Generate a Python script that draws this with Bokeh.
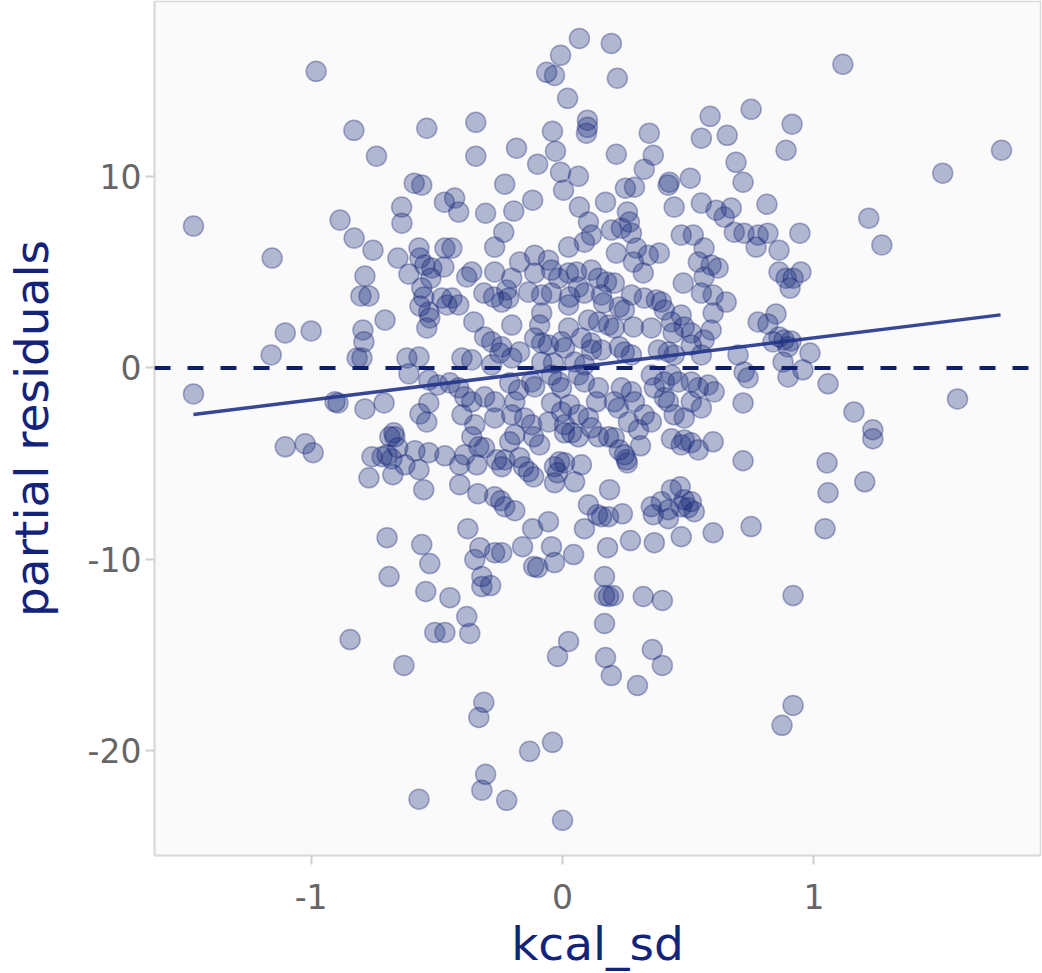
from bokeh.plotting import figure
from bokeh.models import Span, FixedTicker, Range1d
from bokeh.embed import file_html
from bokeh.resources import INLINE

# ---- data ----
x_top = [-0.98, -0.83, -0.54, -0.74, -0.59, -0.56, -0.64, -0.47, -0.885, -0.063,
         -0.032, -0.008, 0.067, 0.194, 0.218, 0.02, 0.099, 0.099, 0.095, -0.345,
         -0.345, -0.183, -0.099, -0.04, -0.028, -0.008, 0.063, 0.004, -0.119, -0.23,
         -0.306, -0.194, -0.429, -0.413, 0.171, 0.214, 0.345, 0.361, 0.325, 0.25,
         0.286, 0.425, 0.42, 0.508, 0.552, 0.587, 0.552, 0.655, 0.69, 0.718,
         0.75, 0.067, 0.258, 0.444, 0.671, 0.611, 1.115, 0.913, 0.889, 1.512,
         1.746, 0.813, 1.218]
y_top = [15.49, 12.41, 12.52, 11.06, 9.65, 9.55, 8.40, 8.66, 7.72, 15.44,
         15.28, 16.33, 17.21, 16.95, 15.13, 14.08, 12.94, 12.57, 12.26, 12.83,
         11.06, 11.48, 10.64, 12.36, 11.32, 10.22, 10.01, 9.28, 8.76, 9.60,
         8.08, 8.19, 8.87, 8.14, 8.66, 11.16, 12.26, 11.11, 10.38, 9.39,
         9.44, 9.70, 9.55, 9.91, 8.61, 13.14, 12.0, 12.15, 10.74, 9.70,
         13.51, 8.40, 8.14, 8.40, 8.35, 8.24, 15.86, 12.73, 11.37, 10.17,
         11.37, 8.55, 7.82]

x_midleft = [-1.468, -1.155, -0.829, -0.754, -0.639, -0.655, -0.611, -0.571, -0.567, -0.548,
             -0.52, -0.524, -0.468, -0.472, -0.786, -0.802, -0.77, -0.56, -0.552, -0.567,
             -0.532, -0.528, -0.54, -0.48, -0.46, -0.706, -0.794, -0.79, -0.817, -0.798,
             -1.103, -1.0, -1.159, -0.619, -0.571, -0.611, -0.532, -0.496, -0.448, -1.468,
             -0.905, -0.893, -0.786, -0.71, -0.532, -0.567, -0.54, -0.671]
y_midleft = [7.41, 5.74, 6.78, 6.15, 7.56, 5.74, 4.90, 6.26, 5.74, 5.37,
             5.22, 4.69, 6.26, 5.27, 4.80, 3.76, 3.76, 4.17, 3.70, 3.23,
             2.92, 2.61, 2.09, 3.65, 3.29, 2.50, 1.98, 1.36, 0.52, 0.52,
             1.83, 1.93, 0.68, 0.52, 0.57, -0.31, -0.63, -0.89, -0.78, -1.36,
             -1.77, -1.83, -2.14, -1.83, -1.83, -2.40, -2.82, -3.39]

x_midright = [0.944, 1.27, 0.778, 0.817, 0.77, 0.861, 0.861, 0.948, 0.889, 0.917,
              0.905, 0.849, 0.778, 0.817, 0.861, 0.881, 0.909, 0.897, 0.837, 0.984,
              0.877, 0.956, 0.897, 1.056, 1.571, 1.159, 1.234]
y_midright = [7.04, 6.42, 6.94, 7.04, 6.31, 6.15, 5.01, 5.01, 4.69, 4.69,
              4.17, 2.82, 2.40, 2.30, 1.62, 1.46, 1.41, 1.10, 1.36, 0.78,
              0.31, -0.10, -0.47, -0.83, -1.62, -2.30, -3.23]

x_lowleft = [-1.103, -1.024, -0.992, -0.667, -0.687, -0.758, -0.718, -0.698, -0.679, -0.655,
             -0.587, -0.532, -0.468, -0.627, -0.571, -0.77, -0.675, -0.552, -0.698, -0.56,
             -0.528, -0.69, -0.544, -0.448, -0.508, -0.468, -0.845]
y_lowleft = [-4.12, -3.96, -4.43, -3.60, -3.60, -4.64, -4.64, -4.54, -4.75, -4.17,
             -4.33, -4.43, -4.59, -5.06, -5.32, -5.74, -5.58, -6.36, -8.87, -9.23,
             -10.22, -10.90, -11.68, -12.0, -13.82, -13.82, -14.19]

x_bottom = [-0.631, -0.571, -0.02, 0.024, 0.171, 0.194, 0.298, 0.357, 0.397, -0.313,
            -0.333, -0.131, -0.04, -0.306, -0.321, -0.222, 0.0, 0.873, 0.917]
y_bottom = [-15.54, -22.53, -15.07, -14.29, -15.13, -16.07, -16.59, -14.71, -15.54, -17.47,
            -18.26, -20.03, -19.56, -21.23, -22.06, -22.59, -23.63, -18.67, -17.63]

x_lowright = [1.234, 1.052, 1.202, 1.056, 1.044, 0.917]
y_lowright = [-3.70, -4.96, -5.95, -6.52, -8.40, -11.89]

x_lowmid = [0.599, 0.718, 0.433, 0.484, 0.512, 0.54, 0.472, 0.31, 0.246, 0.254,
            0.258, 0.226, 0.183, 0.143, 0.206, 0.036, 0.063, 0.008, 0.075, 0.008,
            -0.012, -0.032, -0.02, -0.032, 0.048, -0.115, -0.135, -0.155, -0.091, -0.115,
            -0.19, -0.21, -0.171, -0.23, -0.262, -0.242, -0.361, -0.333, -0.389, -0.409,
            -0.341, -0.31, -0.409, -0.337, -0.27, -0.246, -0.19, -0.23, 0.187, 0.103,
            0.155, 0.183, 0.139, 0.238, 0.087, 0.179, 0.27, 0.365, 0.472, 0.599,
            0.353, 0.361, 0.393, 0.433, 0.468, 0.421, 0.421, 0.484, 0.512, 0.524,
            0.472, 0.5, 0.75, -0.377, -0.119, -0.056, -0.159, -0.044, 0.044, -0.032,
            -0.242, -0.27, -0.329, -0.349, -0.115, -0.099, -0.321, -0.321, -0.286, 0.167,
            0.167, 0.183, 0.202, 0.321, 0.397, 0.167, -0.381, -0.369]
y_lowmid = [-3.86, -4.85, -3.70, -3.76, -3.91, -4.28, -4.02, -4.07, -4.54, -4.80,
            -4.96, -4.28, -3.60, -3.60, -3.65, -3.39, -3.60, -3.39, -5.06, -4.96,
            -4.90, -5.16, -5.48, -6.0, -5.95, -5.69, -5.42, -5.16, -4.02, -3.60,
            -3.49, -3.86, -4.69, -4.80, -4.80, -5.16, -3.60, -4.12, -4.54, -5.06,
            -5.06, -4.17, -6.10, -6.57, -6.73, -6.94, -7.46, -7.25, -6.36, -7.15,
            -7.77, -7.77, -7.67, -7.62, -8.40, -9.39, -9.02, -9.13, -8.82, -8.61,
            -7.25, -7.67, -6.99, -6.36, -6.21, -7.41, -7.88, -6.89, -6.99, -7.51,
            -7.25, -7.30, -8.29, -8.40, -8.40, -8.03, -9.34, -9.34, -9.75, -10.17,
            -9.65, -9.65, -9.39, -10.01, -10.38, -10.43, -10.90, -11.42, -11.37, -10.90,
            -11.89, -11.94, -11.89, -11.94, -12.15, -13.35, -12.99, -13.87]

x_center = [-0.234, -0.27, -0.44, 0.024, 0.087, 0.103, 0.115, 0.194, 0.234, 0.266,
            0.274, 0.214, 0.294, 0.341, 0.385, 0.282, 0.321, 0.472, 0.52, 0.563,
            0.54, 0.591, 0.619, 0.563, 0.48, 0.552, 0.599, 0.651, 0.599, 0.591,
            0.683, 0.722, 0.643, -0.171, -0.111, -0.056, -0.361, -0.381, -0.27, -0.111,
            -0.044, -0.016, 0.024, 0.056, 0.115, 0.143, 0.175, 0.206, -0.202, -0.222,
            -0.214, -0.313, -0.274, -0.242, -0.44, -0.413, -0.135, -0.083, -0.044, 0.063,
            0.087, 0.028, 0.024, 0.155, 0.163, 0.274, 0.226, 0.246, 0.325, 0.373,
            0.393, 0.405, -0.083, -0.091, -0.353, -0.202, 0.024, 0.103, 0.143, 0.183,
            0.206, 0.282, 0.353, 0.433, 0.472, 0.484, 0.44, 0.512, 0.563, -0.31,
            -0.282, -0.242, -0.25, -0.111, -0.083, -0.056, -0.004, 0.008, 0.075, 0.115,
            0.155, 0.115, 0.226, 0.246, 0.274, 0.381, 0.421, 0.444, 0.512, 0.552,
            -0.171, -0.202, -0.40, -0.361, -0.282, -0.083, -0.036, 0.048, 0.087, 0.698,
            0.722, 0.738, -0.413, -0.389, -0.361, -0.31, -0.27, -0.21, -0.175, -0.123,
            -0.111, -0.044, -0.016, -0.004, 0.063, 0.087, 0.143, 0.135, 0.234, 0.274,
            0.286, 0.353, 0.405, 0.433, 0.46, 0.365, 0.405, 0.512, 0.54, 0.579,
            0.603, 0.512, 0.552, 0.718, -0.19, -0.202, -0.044, -0.004, 0.028, 0.063,
            0.103, 0.206, 0.222, 0.325, 0.353, 0.421, 0.444, -0.40, -0.349, -0.27,
            -0.151, -0.123, -0.056, 0.008, 0.115, 0.262, 0.484, 0.302]
y_center = [7.09, 6.31, 6.26, 6.31, 6.57, 7.62, 6.94, 7.20, 7.30, 7.62,
            7.04, 6.0, 6.26, 5.89, 6.0, 5.53, 4.96, 6.94, 6.94, 6.26,
            5.53, 5.37, 5.22, 4.75, 4.43, 3.91, 3.81, 3.44, 2.87, 1.98,
            7.09, 7.04, 7.88, 5.53, 5.89, 5.63, 5.01, 4.75, 5.01, 4.96,
            5.11, 4.69, 4.96, 5.01, 5.11, 4.69, 4.49, 4.43, 4.69, 4.07,
            3.65, 3.91, 3.70, 3.44, 3.65, 3.29, 3.96, 3.81, 3.91, 4.22,
            3.91, 3.70, 3.29, 3.81, 3.39, 3.81, 3.18, 3.03, 3.65, 3.55,
            3.44, 3.03, 2.87, 2.24, 2.40, 2.24, 2.09, 2.50, 2.40, 2.24,
            2.09, 2.14, 2.09, 2.40, 2.76, 2.14, 1.83, 1.83, 1.46, 1.62,
            1.36, 1.10, 0.78, 1.56, 1.30, 1.20, 1.36, 1.04, 1.56, 1.30,
            0.94, 0.94, 1.10, 0.83, 0.68, 0.94, 0.83, 0.68, 1.20, 0.68,
            0.83, 0.52, 0.52, 0.42, 0.16, 0.31, 0.26, 0.31, 0.16, 0.68,
            -0.21, -0.52, -1.04, -1.51, -1.77, -1.51, -1.77, -0.78, -1.15, -0.73,
            -0.99, -0.37, -0.73, -1.04, -0.37, -0.73, -1.04, -1.77, -1.04, -1.25,
            -1.77, -0.37, -0.73, -0.37, -0.73, -1.04, -1.56, -0.73, -1.04, -0.89,
            -1.25, -1.77, -2.09, -1.83, -1.77, -2.45, -1.83, -2.30, -1.93, -2.45,
            -2.61, -1.77, -2.09, -2.45, -2.82, -1.77, -2.45, -2.45, -2.97, -2.61,
            -2.61, -2.97, -2.82, -2.97, -3.13, -2.82, -2.61, -3.23]

# fitted regression line (end points)
fit_x = [-1.468, 1.742]
fit_y = [-2.43, 2.77]

x_ticks = [-1, 0, 1]
y_ticks = [-20, -10, 0, 10]

kcal_sd = []
partial_resid = []
for xs, ys in [(x_top, y_top), (x_midleft, y_midleft), (x_midright, y_midright),
               (x_lowleft, y_lowleft), (x_bottom, y_bottom), (x_lowright, y_lowright),
               (x_lowmid, y_lowmid), (x_center, y_center)]:
    n = min(len(xs), len(ys))
    kcal_sd += xs[:n]
    partial_resid += ys[:n]

# ---- figure ----
NAVY = "#1a2a7c"
p = figure(width=1042, height=973, output_backend="svg", toolbar_location=None,
           x_range=Range1d(-1.623, 1.901), y_range=Range1d(-25.47, 19.14),
           min_border_left=152, min_border_right=2, min_border_top=1, min_border_bottom=0)
p.background_fill_color = "#fafafa"
p.border_fill_color = "white"
p.outline_line_color = "#d9d9d9"
p.outline_line_width = 1.5
p.grid.visible = False

p.scatter(kcal_sd, partial_resid, size=20, fill_color=NAVY, fill_alpha=0.32,
          line_color=NAVY, line_alpha=0.38, line_width=1.5)

p.add_layout(Span(location=0, dimension="width", line_color="#0f1f6e",
                  line_width=4, line_dash="16 17"))
p.line(fit_x, fit_y, line_color="#22338a", line_width=3.5, line_alpha=0.9)

p.xaxis.ticker = FixedTicker(ticks=x_ticks)
p.yaxis.ticker = FixedTicker(ticks=y_ticks)
p.xaxis.major_label_overrides = {t: str(t) for t in x_ticks}
p.yaxis.major_label_overrides = {t: str(t) for t in y_ticks}
for ax in (p.xaxis[0], p.yaxis[0]):
    ax.axis_line_color = "#d9d9d9"
    ax.axis_line_width = 2
    ax.major_tick_line_color = "#d0d0d0"
    ax.major_tick_line_width = 2
    ax.major_tick_in = 0
    ax.major_tick_out = 9
    ax.minor_tick_line_color = None
    ax.major_label_text_font = "DejaVu Sans"
    ax.major_label_text_font_size = "33px"
    ax.major_label_text_color = "#666666"
    ax.axis_label_text_font = "DejaVu Sans"
    ax.axis_label_text_font_size = "47px"
    ax.axis_label_text_font_style = "normal"
    ax.axis_label_text_color = "#14237a"

p.xaxis.axis_label = "kcal_sd"
p.yaxis.axis_label = "partial residuals"
p.xaxis.major_label_standoff = 19
p.xaxis.axis_label_standoff = 4
p.yaxis.major_label_standoff = 4
p.yaxis.axis_label_standoff = 26

open("out.html", "w").write(file_html(p, INLINE))
